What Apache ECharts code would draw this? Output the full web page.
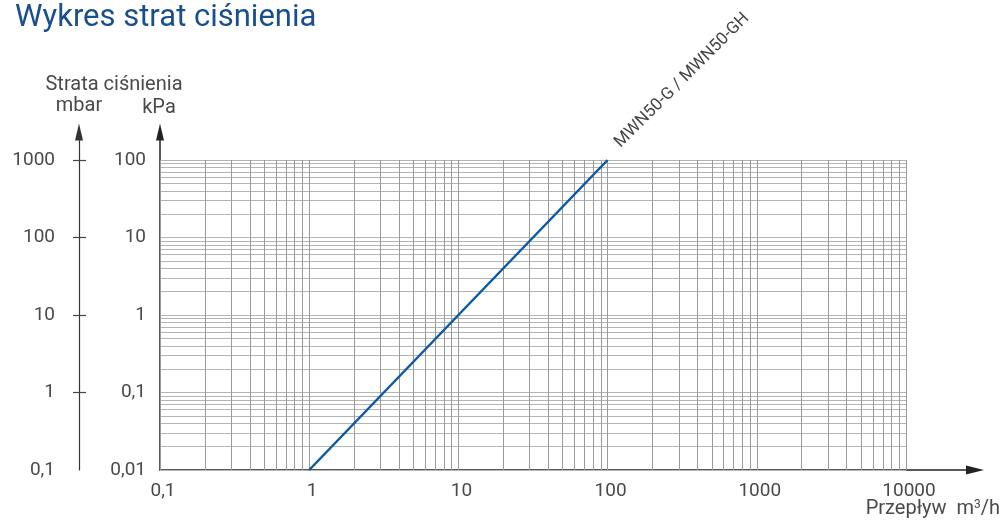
<!DOCTYPE html>
<html><head><meta charset="utf-8">
<script src="https://cdn.jsdelivr.net/npm/echarts@6/dist/echarts.min.js"></script>
<style>html,body{margin:0;padding:0;background:#fff}#c{width:1006px;height:524px}</style>
</head><body><div id="c"></div>
<script>
// ---- data ----
const flow = [1, 10, 100];            // m3/h
const lossKPa = [0.01, 1, 100];       // kPa
const seriesName = 'MWN50-G / MWN50-GH';
const xTicks = [0.1, 1, 10, 100, 1000, 10000];
const kpaTicks = [0.01, 0.1, 1, 10, 100];
const mbarTicks = [0.1, 1, 10, 100, 1000];
const titleText = 'Wykres strat ciśnienia';
const yTitle = 'Strata ciśnienia';
const yUnitL = 'mbar';
const yUnitR = 'kPa';
const xTitle = 'Przepływ';

// grid values (1..9 per decade)
function decadeLines(ticks){
  const out=[];
  for(let i=0;i<ticks.length-1;i++){
    for(let k=1;k<=9;k++) out.push(Number((ticks[i]*k).toPrecision(6)));
  }
  out.push(ticks[ticks.length-1]);
  return out;
}
const xGrid = decadeLines(xTicks);
const yGrid = decadeLines(kpaTicks);

const fmt = v => String(Number(Number(v).toPrecision(6))).replace('.', ',');
const FONT = 'Roboto';
const LBL = {fontFamily: FONT, fontSize: 19, color: '#4a4a4a'};
const AX = '#222';

const chart = echarts.init(document.getElementById('c'), null, {renderer:'canvas'});
const option = {
  animation: false,
  backgroundColor: '#fff',
  grid: [
    {left: 160, top: 160, right: 100, bottom: 54},
    {left: 160, top: 132, right: 31, bottom: 54}
  ],
  xAxis: [
    {type:'log', logBase:10, min:0.1, max:10000, gridIndex:0,
     axisLine:{show:false}, axisTick:{show:false}, splitLine:{show:false},
     axisLabel:Object.assign({margin:12, formatter:fmt, padding:[0,0,0,6]}, LBL)},
    {type:'value', min:0, max:1, gridIndex:1,
     axisLine:{show:true, onZero:false, symbol:['none','triangle'], symbolSize:[9,18], lineStyle:{color:AX,width:1.5}},
     axisTick:{show:false}, axisLabel:{show:false}, splitLine:{show:false}}
  ],
  yAxis: [
    {type:'log', logBase:10, min:0.01, max:100, gridIndex:0, position:'left',
     axisLine:{show:false}, axisTick:{show:false}, splitLine:{show:false},
     axisLabel:Object.assign({margin:14, formatter:fmt}, LBL)},
    {type:'log', logBase:10, min:0.1, max:1000, gridIndex:0, position:'left', offset:81,
     axisLine:{show:false}, axisTick:{show:true, length:6, customValues:[1,10,100,1000], lineStyle:{color:'#444',width:1.2}},
     splitLine:{show:false},
     axisLabel:Object.assign({margin:24, formatter:fmt}, LBL)},
    {type:'log', logBase:10, min:0.1, max:1000, gridIndex:0, position:'left', offset:81,
     axisLine:{show:false}, axisTick:{show:true, inside:true, length:7, customValues:[1,10,100,1000], lineStyle:{color:'#444',width:1.2}},
     splitLine:{show:false}, axisLabel:{show:false}},
    {type:'value', min:0, max:1, gridIndex:1, position:'left',
     axisLine:{show:true, onZero:false, symbol:['none','triangle'], symbolSize:[8,17], lineStyle:{color:AX,width:1.5}},
     axisTick:{show:false}, axisLabel:{show:false}, splitLine:{show:false}},
    {type:'value', min:0, max:1, gridIndex:1, position:'left', offset:81,
     axisLine:{show:true, onZero:false, symbol:['none','triangle'], symbolSize:[8,17], lineStyle:{color:'#333',width:1.2}},
     axisTick:{show:false}, axisLabel:{show:false}, splitLine:{show:false}}
  ],
  series: [
    {type:'line', xAxisIndex:0, yAxisIndex:0, data:[], silent:true, z:1,
     markLine:{silent:true, symbol:['none','none'], label:{show:false}, animation:false,
       lineStyle:{color:'#b4b4b4', width:1, type:'solid'},
       data: yGrid.map(v=>({yAxis:v}))}},
    {type:'line', xAxisIndex:0, yAxisIndex:0, data:[], silent:true, z:2,
     markLine:{silent:true, symbol:['none','none'], label:{show:false}, animation:false,
       lineStyle:{color:'#9a9a9a', width:1, type:'solid'},
       data: xGrid.map(v=>({xAxis:v}))}},
    {type:'line', name:seriesName, xAxisIndex:0, yAxisIndex:0, z:5,
     data: flow.map((f,i)=>[f, lossKPa[i]]),
     showSymbol:false, symbol:'none',
     lineStyle:{color:'#0c5aa6', width:2.5}}
  ],
  graphic: [
    {type:'text', left:15, top:3, style:{text:titleText, fontFamily:FONT, fontSize:31, fill:'#1a4f8c'}},
    {type:'text', x:114, y:85, style:{text:yTitle, fontFamily:FONT, fontSize:20, fill:'#4a4a4a', align:'center', verticalAlign:'middle'}},
    {type:'text', x:79, y:106, style:{text:yUnitL, fontFamily:FONT, fontSize:20, fill:'#4a4a4a', align:'center', verticalAlign:'middle'}},
    {type:'text', x:159, y:108, style:{text:yUnitR, fontFamily:FONT, fontSize:20, fill:'#4a4a4a', align:'center', verticalAlign:'middle'}},
    {type:'text', right:6, top:499, style:{
      text:'{a|' + xTitle + '  m}{s|3}{a|/h}', fontFamily:FONT, fontSize:20, fill:'#4a4a4a',
      rich:{a:{fontFamily:FONT,fontSize:20,color:'#4a4a4a',verticalAlign:'bottom'}, s:{fontFamily:FONT,fontSize:12,color:'#4a4a4a',verticalAlign:'top', padding:[0,0,8,0]}}}}
  ]
};
chart.setOption(option);
// series label anchored at the end of the line via library scale
const end = chart.convertToPixel({gridIndex:0}, [flow[flow.length-1], lossKPa[lossKPa.length-1]]);
chart.setOption({graphic: option.graphic.concat([
  {type:'text', x:end[0]+10, y:end[1]-15, rotation:Math.PI/4,
   style:{text:seriesName, fontFamily:FONT, fontSize:17, fill:'#444', align:'left', verticalAlign:'middle'}}
])});
</script></body></html>
